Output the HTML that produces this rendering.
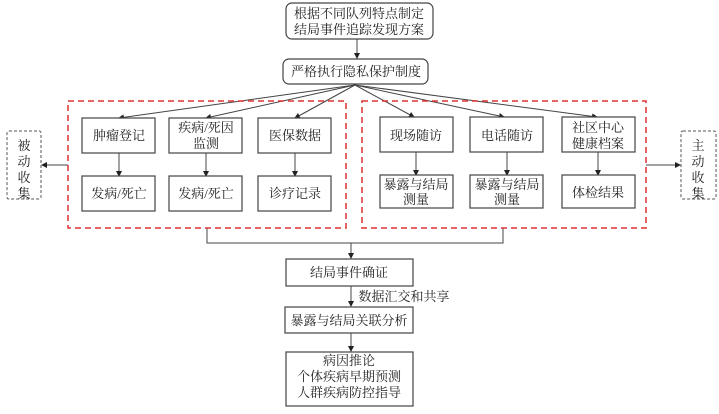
<!DOCTYPE html>
<html><head><meta charset="utf-8"><style>
body{margin:0;background:#fff;}
svg text{font-family:"Liberation Serif","Noto Serif CJK SC","Noto Sans CJK SC",serif;font-size:13px;fill:#222;text-anchor:middle;}
</style></head><body>
<svg width="719" height="409" xmlns="http://www.w3.org/2000/svg">
<defs><marker id="a" markerWidth="6" markerHeight="6" refX="5" refY="3" orient="auto"><path d="M0,0L6,3L0,6z" fill="#222"/></marker></defs>
<g stroke="#444" stroke-width="1.2" fill="#fff">
<rect x="286" y="3" width="147" height="36" rx="6"/>
<rect x="283" y="59" width="145" height="25" rx="6"/>
</g>
<g stroke="#444" stroke-width="1" fill="none" marker-end="url(#a)">
<line x1="357" y1="39" x2="357" y2="58"/>
<line x1="355" y1="85" x2="119" y2="118"/>
<line x1="355" y1="85" x2="206" y2="118"/>
<line x1="355" y1="85" x2="295" y2="118"/>
<line x1="355" y1="85" x2="414" y2="117"/>
<line x1="355" y1="85" x2="504" y2="117"/>
<line x1="355" y1="85" x2="597" y2="117"/>
<line x1="119" y1="153" x2="119" y2="176"/>
<line x1="206" y1="153" x2="206" y2="176"/>
<line x1="295" y1="153" x2="295" y2="176"/>
<line x1="416" y1="152" x2="416" y2="175"/>
<line x1="507" y1="152" x2="507" y2="175"/>
<line x1="598" y1="152" x2="598" y2="175"/>
<line x1="68" y1="165" x2="42" y2="165"/>
<line x1="646" y1="165" x2="680" y2="165"/>
<line x1="351" y1="243" x2="351" y2="258"/>
<line x1="351" y1="286" x2="351" y2="306"/>
<line x1="351" y1="333" x2="351" y2="351"/>
</g>
<polyline points="207,228 207,243 503,243 503,228" fill="none" stroke="#444" stroke-width="1"/>
<g stroke="#d33" stroke-width="1.5" stroke-dasharray="6,4" fill="none">
<rect x="68" y="101" width="278" height="127"/>
<rect x="362" y="101" width="284" height="127"/>
</g>
<g stroke="#555" stroke-width="1" stroke-dasharray="3,2" fill="#fff">
<rect x="7" y="131" width="34" height="68" rx="2"/>
<rect x="681" y="131" width="35" height="68" rx="2"/>
</g>
<g stroke="#444" stroke-width="1.2" fill="#fff">
<rect x="82" y="118" width="73" height="35"/>
<rect x="169" y="118" width="73" height="35"/>
<rect x="258" y="118" width="73" height="35"/>
<rect x="82" y="176" width="73" height="35"/>
<rect x="169" y="176" width="73" height="35"/>
<rect x="258" y="176" width="73" height="35"/>
<rect x="380" y="117" width="73" height="35"/>
<rect x="470" y="117" width="73" height="35"/>
<rect x="562" y="117" width="73" height="35"/>
<rect x="380" y="175" width="73" height="33"/>
<rect x="470" y="175" width="73" height="33"/>
<rect x="562" y="175" width="73" height="33"/>
<rect x="286" y="259" width="127" height="27"/>
<rect x="285" y="307" width="128" height="26"/>
<rect x="286" y="352" width="127" height="54"/>
</g>
<text x="359" y="18">根据不同队列特点制定</text>
<text x="359" y="34">结局事件追踪发现方案</text>
<text x="356" y="76">严格执行隐私保护制度</text>
<text x="119" y="140">肿瘤登记</text>
<text x="206" y="132">疾病/死因</text>
<text x="206" y="148">监测</text>
<text x="295" y="140">医保数据</text>
<text x="119" y="198">发病/死亡</text>
<text x="206" y="198">发病/死亡</text>
<text x="295" y="198">诊疗记录</text>
<text x="416" y="140">现场随访</text>
<text x="507" y="140">电话随访</text>
<text x="598" y="132">社区中心</text>
<text x="598" y="148">健康档案</text>
<text x="416" y="189">暴露与结局</text>
<text x="416" y="204">测量</text>
<text x="507" y="189">暴露与结局</text>
<text x="507" y="204">测量</text>
<text x="598" y="197">体检结果</text>
<text x="24" y="150">被</text><text x="24" y="166">动</text><text x="24" y="182">收</text><text x="24" y="198">集</text>
<text x="698" y="150">主</text><text x="698" y="166">动</text><text x="698" y="182">收</text><text x="698" y="198">集</text>
<text x="349" y="277">结局事件确证</text>
<text x="404" y="301">数据汇交和共享</text>
<text x="349" y="325">暴露与结局关联分析</text>
<text x="349" y="365">病因推论</text>
<text x="349" y="381">个体疾病早期预测</text>
<text x="349" y="397">人群疾病防控指导</text>
</svg>
</body></html>
